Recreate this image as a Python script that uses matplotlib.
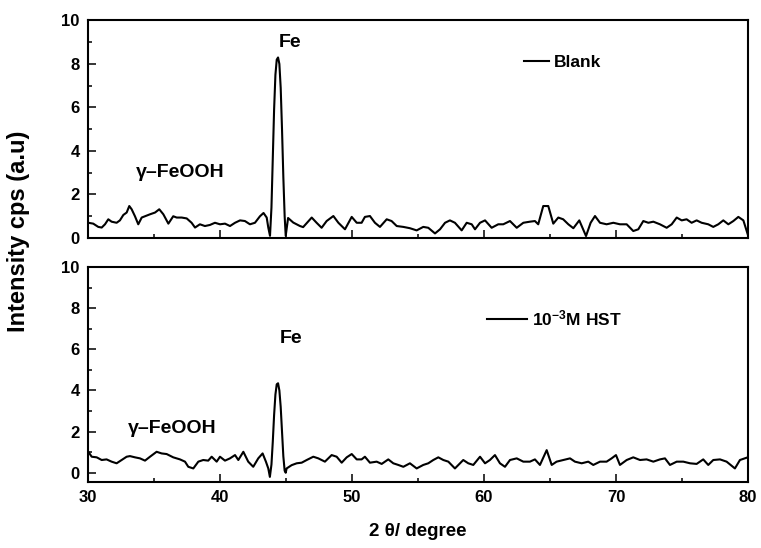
import matplotlib
matplotlib.use("Agg")
import matplotlib.pyplot as plt
from matplotlib.ticker import MultipleLocator

plt.rcParams["font.family"] = ["Liberation Sans", "DejaVu Sans"]
plt.rcParams["font.weight"] = "bold"
plt.rcParams["mathtext.fontset"] = "custom"
plt.rcParams["mathtext.rm"] = "Liberation Sans:bold"
plt.rcParams["mathtext.bf"] = "Liberation Sans:bold"
plt.rcParams["mathtext.default"] = "bf"

# XRD pattern of the blank sample (2-theta in degrees, intensity in a.u.)
blank_theta = [
    30.03, 30.40, 30.78, 31.04, 31.29, 31.54, 31.79, 32.17, 32.42, 32.68,
    32.93, 33.13, 33.31, 33.56, 33.81, 34.07, 34.32, 34.70, 35.08, 35.40,
    35.71, 36.09, 36.46, 36.72, 37.10, 37.48, 37.85, 38.11, 38.48, 38.86,
    39.24, 39.62, 40.00, 40.38, 40.76, 41.14, 41.52, 41.89, 42.27, 42.65,
    43.03, 43.30, 43.54, 43.66, 43.79, 43.90, 44.00, 44.10, 44.20, 44.30,
    44.40, 44.50, 44.60, 44.70, 44.80, 44.90, 44.98, 45.16, 45.55, 46.06,
    46.30, 46.95, 47.32, 47.70, 48.08, 48.59, 48.97, 49.47, 49.98, 50.36,
    50.73, 50.98, 51.36, 51.74, 52.12, 52.63, 53.00, 53.39, 53.89, 54.39,
    54.90, 55.40, 55.78, 56.29, 56.67, 57.05, 57.42, 57.80, 58.31, 58.69,
    59.07, 59.32, 59.70, 60.08, 60.58, 61.08, 61.46, 61.97, 62.48, 62.98,
    63.48, 63.86, 64.11, 64.49, 64.87, 65.25, 65.63, 66.00, 66.39, 66.77,
    67.22, 67.73, 68.08, 68.41, 68.79, 69.29, 69.80, 70.30, 70.81, 71.31,
    71.69, 72.07, 72.45, 72.83, 73.33, 73.84, 74.22, 74.60, 74.98, 75.35,
    75.73, 76.11, 76.49, 76.99, 77.37, 77.75, 78.13, 78.51, 78.89, 79.27,
    79.65, 79.98,
]
blank_intensity = [
    0.70, 0.66, 0.51, 0.48, 0.63, 0.86, 0.75, 0.70, 0.81, 1.06,
    1.17, 1.47, 1.32, 1.00, 0.63, 0.94, 1.00, 1.09, 1.17, 1.32,
    1.09, 0.66, 1.00, 0.94, 0.94, 0.90, 0.70, 0.48, 0.63, 0.55,
    0.60, 0.70, 0.63, 0.66, 0.55, 0.70, 0.81, 0.78, 0.63, 0.70,
    1.00, 1.15, 0.94, 0.48, 0.10, 1.40, 3.60, 5.90, 7.50, 8.20,
    8.30, 8.00, 6.90, 5.00, 2.80, 1.00, 0.10, 0.92, 0.71, 0.55,
    0.50, 0.94, 0.70, 0.47, 0.78, 1.01, 0.70, 0.40, 0.97, 0.70,
    0.70, 0.97, 1.01, 0.70, 0.51, 0.86, 0.78, 0.55, 0.51, 0.45,
    0.35, 0.51, 0.47, 0.21, 0.40, 0.70, 0.81, 0.70, 0.35, 0.70,
    0.63, 0.40, 0.70, 0.81, 0.47, 0.63, 0.63, 0.78, 0.47, 0.70,
    0.75, 0.78, 0.63, 1.47, 1.47, 0.66, 0.94, 0.86, 0.63, 0.45,
    0.81, 0.09, 0.70, 1.01, 0.70, 0.63, 0.70, 0.63, 0.63, 0.32,
    0.40, 0.78, 0.70, 0.75, 0.63, 0.47, 0.63, 0.94, 0.81, 0.86,
    0.70, 0.81, 0.70, 0.63, 0.51, 0.63, 0.81, 0.63, 0.78, 0.97,
    0.81, 0.17,
]

# XRD pattern after immersion with 10^-3 M HST
hst_theta = [
    30.03, 30.28, 30.66, 31.04, 31.41, 31.79, 32.17, 32.55, 32.93, 33.18,
    33.56, 33.94, 34.32, 34.70, 35.20, 35.58, 35.96, 36.46, 36.97, 37.35,
    37.60, 37.98, 38.36, 38.73, 39.11, 39.37, 39.75, 40.00, 40.38, 40.76,
    41.14, 41.39, 41.77, 42.14, 42.52, 42.90, 43.23, 43.48, 43.66, 43.78,
    43.90, 44.00, 44.10, 44.20, 44.30, 44.40, 44.50, 44.60, 44.70, 44.80,
    44.90, 44.98, 45.05, 45.43, 45.81, 46.19, 46.57, 47.07, 47.45, 47.95,
    48.46, 48.84, 49.22, 49.60, 49.98, 50.36, 50.73, 50.98, 51.36, 51.87,
    52.25, 52.75, 53.13, 53.51, 53.89, 54.39, 54.90, 55.40, 55.78, 56.16,
    56.54, 56.92, 57.30, 57.80, 58.43, 58.81, 59.19, 59.70, 60.08, 60.45,
    60.83, 61.21, 61.59, 61.97, 62.48, 62.98, 63.48, 63.86, 64.24, 64.75,
    65.13, 65.50, 66.01, 66.52, 66.89, 67.40, 67.90, 68.28, 68.79, 69.29,
    69.67, 70.00, 70.30, 70.81, 71.31, 71.82, 72.32, 72.83, 73.33, 73.71,
    74.09, 74.60, 75.10, 75.61, 76.11, 76.61, 76.99, 77.37, 77.88, 78.38,
    78.76, 79.01, 79.39, 79.98,
]
hst_intensity = [
    1.02, 0.78, 0.75, 0.62, 0.65, 0.54, 0.46, 0.62, 0.78, 0.81,
    0.75, 0.70, 0.59, 0.78, 1.02, 0.94, 0.91, 0.75, 0.65, 0.54,
    0.29, 0.21, 0.54, 0.62, 0.59, 0.78, 0.54, 0.78, 0.59, 0.70,
    0.86, 0.62, 1.02, 0.54, 0.29, 0.70, 0.94, 0.54, 0.21, -0.20,
    0.40, 1.50, 2.80, 3.80, 4.30, 4.35, 4.00, 3.20, 2.00, 0.80,
    0.10, 0.00, 0.21, 0.37, 0.46, 0.49, 0.62, 0.78, 0.70, 0.54,
    0.86, 0.78, 0.49, 0.75, 0.91, 0.65, 0.65, 0.78, 0.49, 0.54,
    0.43, 0.65, 0.46, 0.38, 0.29, 0.46, 0.21, 0.38, 0.46, 0.62,
    0.75, 0.62, 0.54, 0.21, 0.62, 0.46, 0.38, 0.78, 0.46, 0.62,
    0.86, 0.46, 0.29, 0.62, 0.70, 0.54, 0.54, 0.65, 0.38, 1.10,
    0.38, 0.54, 0.62, 0.70, 0.54, 0.46, 0.54, 0.38, 0.54, 0.54,
    0.70, 0.86, 0.38, 0.62, 0.75, 0.62, 0.65, 0.54, 0.65, 0.70,
    0.38, 0.54, 0.54, 0.46, 0.43, 0.65, 0.38, 0.62, 0.65, 0.54,
    0.34, 0.21, 0.62, 0.75,
]

x_ticks = [30, 40, 50, 60, 70, 80]
y_ticks = [0, 2, 4, 6, 8, 10]

fig = plt.figure(figsize=(7.61, 5.48), dpi=100)
ax_top = fig.add_axes([0.1156, 0.5657, 0.8673, 0.3969])
ax_bot = fig.add_axes([0.1156, 0.1204, 0.8673, 0.3923])

for ax in (ax_top, ax_bot):
    ax.set_xlim(30, 80)
    ax.set_xticks(x_ticks)
    ax.set_yticks(y_ticks)
    ax.xaxis.set_minor_locator(MultipleLocator(5))
    ax.yaxis.set_minor_locator(MultipleLocator(1))
    ax.tick_params(which="both", direction="in", top=False, right=False,
                   width=1.1, labelsize=12, pad=6)
    ax.tick_params(which="major", length=5.5)
    ax.tick_params(which="minor", length=3)
    for sp in ax.spines.values():
        sp.set_linewidth(1.5)

ax_top.set_ylim(0, 10)
ax_bot.set_ylim(-0.45, 10)
ax_top.tick_params(labelbottom=False)

ax_top.plot(blank_theta, blank_intensity, color="black", lw=1.5, label="Blank")
ax_bot.plot(hst_theta, hst_intensity, color="black", lw=1.5,
            label=r"10$^{-3}$M HST")

ax_top.text(45.3, 9.0, "Fe", ha="center", va="center", fontsize=14, fontweight="bold")
ax_top.text(37.0, 3.0, "γ–FeOOH", ha="center", va="center", fontsize=14, fontweight="bold")
ax_bot.text(45.4, 6.55, "Fe", ha="center", va="center", fontsize=14, fontweight="bold")
ax_bot.text(36.4, 2.17, "γ–FeOOH", ha="center", va="center", fontsize=14, fontweight="bold")

ax_top.legend(loc="center left", bbox_to_anchor=(0.661, 0.805), frameon=False,
              borderaxespad=0, borderpad=0, handlelength=1.4, handletextpad=0.3,
              prop={"weight": "bold", "size": 12.5})
ax_bot.legend(loc="center left", bbox_to_anchor=(0.605, 0.763), frameon=False,
              borderaxespad=0, borderpad=0, handlelength=2.3, handletextpad=0.3,
              prop={"weight": "bold", "size": 12.5})

fig.text(0.5493, 0.031, "2 θ/ degree", ha="center", va="center",
         fontsize=13.5, fontweight="bold")
fig.text(0.024, 0.578, "Intensity cps (a.u)", ha="center", va="center",
         rotation=90, fontsize=17, fontweight="bold")

fig.savefig("out.png", dpi=100)
